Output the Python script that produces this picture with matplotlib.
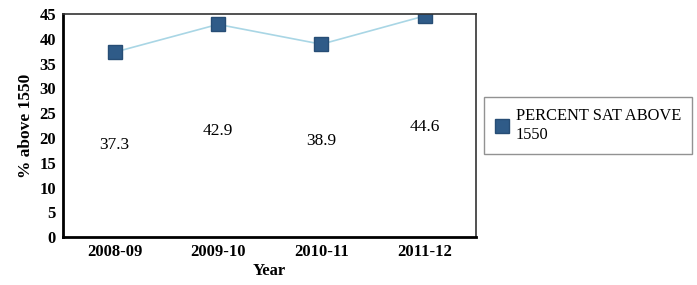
import matplotlib.pyplot as plt

plt.rcParams['font.family'] = ['Liberation Serif', 'DejaVu Serif']

years = ["2008-09", "2009-10", "2010-11", "2011-12"]
percent = [37.3, 42.9, 38.9, 44.6]
y_ticks = [0, 5, 10, 15, 20, 25, 30, 35, 40, 45]

fig = plt.figure(figsize=(6.97, 2.85), dpi=100)
ax = fig.add_axes([0.0904, 0.168, 0.593, 0.783])

x = list(range(len(years)))
ax.plot(x, percent, color="#a9d6e5", linewidth=1.2, marker="s", markersize=10,
        markerfacecolor="#2f5b88", markeredgecolor="#274d75",
        label="PERCENT SAT ABOVE\n1550")

# value labels sit halfway up, as in the original
for xi, v in zip(x, percent):
    ax.text(xi, v / 2, f"{v}", ha="center", va="center", fontsize=12.5)

ax.set_xlim(-0.5, 3.5)
ax.set_ylim(0, 45)
ax.set_xticks(x)
ax.set_xticklabels(years, fontsize=12, fontweight="bold")
ax.set_yticks(y_ticks)
ax.set_yticklabels([str(t) for t in y_ticks], fontsize=12, fontweight="bold")
ax.tick_params(length=0, pad=5)

ax.set_xlabel("Year", fontsize=12, fontweight="bold", labelpad=2)
ax.set_ylabel("% above 1550", fontsize=12.5, fontweight="bold", labelpad=4)

ax.spines["left"].set_linewidth(2)
ax.spines["bottom"].set_linewidth(2)
for s in ["top", "right"]:
    ax.spines[s].set_linewidth(1.2)
    ax.spines[s].set_color("#333333")

leg = fig.legend(loc="upper left", bbox_to_anchor=(0.695, 0.66), fontsize=11.8,
                 frameon=True, fancybox=False, handlelength=0.8,
                 handletextpad=0.4, borderpad=0.7, labelspacing=0.2,
                 borderaxespad=0)
leg.get_frame().set_edgecolor("#777777")
leg.get_lines()[0].set_linestyle("none")

fig.savefig("out.png", dpi=100)
